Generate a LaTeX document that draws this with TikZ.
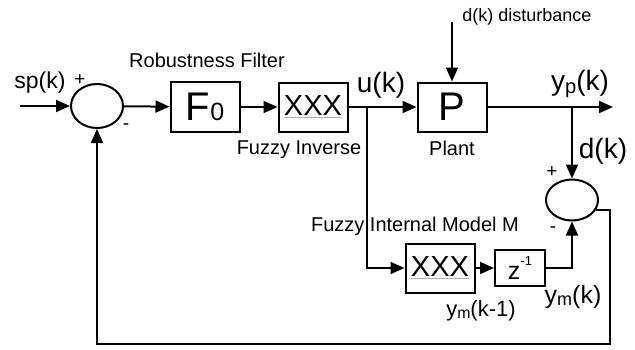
\documentclass[tikz,border=0pt]{standalone}
\usepackage{fontspec}
\setmainfont{Liberation Sans}
\usepackage{graphicx}
\usetikzlibrary{arrows.meta,shapes.geometric}
\newcommand{\fs}[1]{\fontsize{#1}{#1}\selectfont}
\newcommand{\smallsub}[1]{\raisebox{-0.08em}{\scalebox{0.72}{#1}}}
\newcommand{\xxx}{{\color{black!30}\underline{\textcolor{black}{XXX}}}}
\begin{document}
\begin{tikzpicture}[x=1pt,y=-1pt,line width=2pt,
  >={Triangle[length=14pt,width=12pt]},
  blk/.style={draw,rectangle,inner sep=0pt,minimum width=69pt,minimum height=49pt},
  sumj/.style={draw,ellipse,inner sep=0pt,minimum width=52pt,minimum height=44pt},
  lbl/.style={inner sep=0pt,font=\fs{20}},
  big/.style={inner sep=0pt,font=\fs{28}},
  sgn/.style={inner sep=0pt,font=\fs{19}}]
\useasboundingbox (0,0) rectangle (635,349);
% blocks
\node[sumj] (s1) at (97,106) {};
\node[blk,minimum height=50pt] (f0) at (205,107) {\fs{40}F\fs{25}0};
\node[blk,font=\fs{29}] (inv) at (313,107) {\xxx};
\node[blk,font=\fs{40}] (p) at (452,107) {P};
\node[sumj,minimum height=41pt] (s2) at (572,200) {};
\node[blk,font=\fs{29}] (m) at (440,268) {\xxx};
\node[blk,minimum width=50pt,minimum height=36pt,font=\fs{25}] (z) at (520,268) {z\raisebox{0.55em}{\fs{13}-1}};
% coordinates
\coordinate (in) at (20,106);
\coordinate (u) at (367,107);
\coordinate (yb) at (572,107);
\coordinate (out) at (613,107);
\coordinate (dist) at (452,22);
\coordinate (fb) at (610,344);
% connectors
\draw[->] (in) -- (s1);
\draw[->] (s1) -- (f0);
\draw[->] (f0) -- (inv);
\draw[->] (inv) -- (p);
\draw[->] (dist) -- (p);
\draw[->] (p) -- (out);
\draw[->] (yb) -- (s2);
\draw[->] (u) |- (m);
\draw[->] (m) -- (z);
\draw[->] (z) -| (s2);
\draw[->] (s2.-22) -| (fb) -| (s1.south);
% labels
\node[inner sep=0pt,font=\fs{23}] (tsp) at (40,83) {sp(k)};
\node[sgn] (tp1) at (80,80) {+};
\node[sgn] (tm1) at (126,127) {-};
\node[lbl] (trf) at (207,60) {Robustness Filter};
\node[lbl] (tfi) at (299,150) {Fuzzy Inverse};
\node[big] (tu) at (381,85) {u(k)};
\node[inner sep=0pt,font=\fs{18}] (tdd) at (527,17) {d(k) disturbance};
\node[lbl] (tpl) at (452,148) {Plant};
\node[big] (typ) at (580,84) {y\smallsub{p}(k)};
\node[big] (td) at (603,151) {d(k)};
\node[sgn] (tp2) at (552,172) {+};
\node[sgn] (tm2) at (553,230) {-};
\node[lbl] (tfm) at (415,226) {Fuzzy Internal Model M};
\node[inner sep=0pt,font=\fs{22}] (tym1) at (481,311) {y\smallsub{m}(k-1)};
\node[inner sep=0pt,font=\fs{25}] (tym) at (573,297) {y\smallsub{m}(k)};
\end{tikzpicture}
\end{document}
